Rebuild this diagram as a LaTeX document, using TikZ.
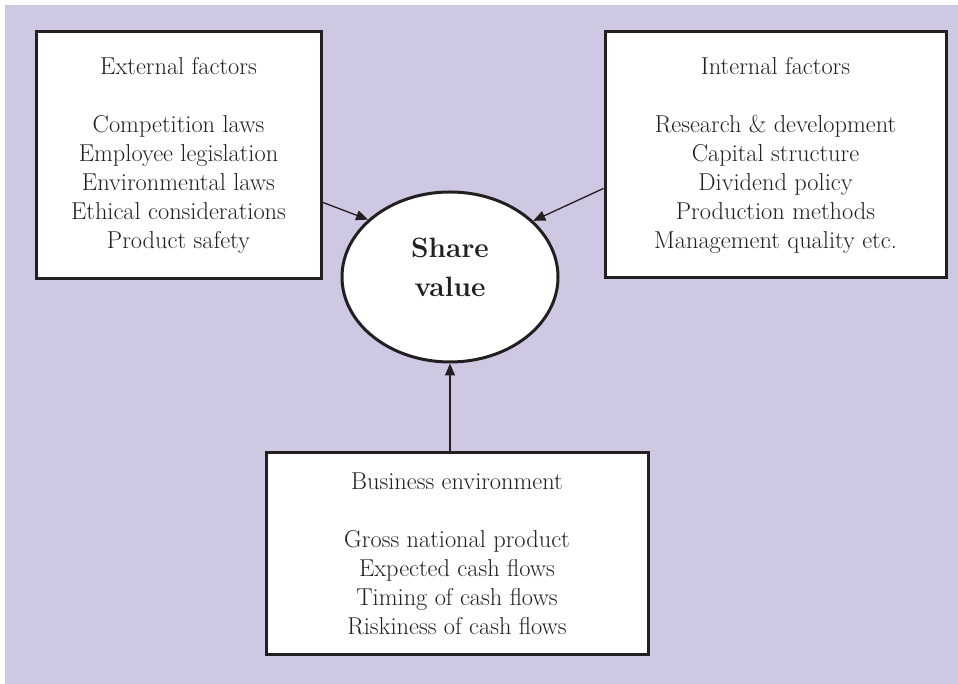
\documentclass[tikz,border=0pt]{standalone}
\usepackage{fontspec}
\usepackage{xcolor}
\usepackage{tikz}
\usetikzlibrary{shapes.geometric,arrows.meta,positioning}

\definecolor{bgpurple}{RGB}{206,200,226}
\definecolor{inkgray}{RGB}{35,31,32}

\tikzset{
  factorbox/.style={draw=inkgray, line width=3pt, fill=white, align=center,
    inner sep=0pt, text=inkgray},
  valueoval/.style={ellipse, draw=inkgray, line width=3pt, fill=white, align=center,
    inner sep=0pt, minimum width=216pt, minimum height=170pt, text=inkgray,
    text depth=20pt, font=\fontsize{28}{39}\selectfont\bfseries},
  pointer/.style={-{Triangle[length=12pt,width=10pt]}, draw=inkgray, line width=1.3pt}
}

\begin{document}
\begin{tikzpicture}[x=1pt, y=1pt, every node/.style={font=\fontsize{24.4}{29}\selectfont}]
  \useasboundingbox (0,0) rectangle (958,684);
  \fill[bgpurple] (5,0) rectangle (958,679);

  % centre of the diagram
  \node[valueoval] (share) at (450,407) {Share\\value};

  % external factors (left)
  \node[factorbox, minimum width=285pt, minimum height=247pt] (ext) at (178.5,528.5)
    {External factors\\[29pt]Competition laws\\Employee legislation\\Environmental laws\\Ethical considerations\\Product safety};

  % internal factors (right)
  \node[factorbox, minimum width=341pt, minimum height=246pt] (int) at (775.5,529)
    {Internal factors\\[29pt]Research \& development\\Capital structure\\Dividend policy\\Production methods\\Management quality etc.};

  % business environment (bottom)
  \node[factorbox, minimum width=382pt, minimum height=202pt] (biz) at (457,130)
    {Business environment\\[29pt]Gross national product\\Expected cash flows\\Timing of cash flows\\Riskiness of cash flows};

  % arrows into the oval
  \draw[pointer] (ext.-18) -- (share.145);
  \draw[pointer] (int.-169) -- (share.34);
  \draw[pointer] (share.south |- biz.north) -- (share.south);
\end{tikzpicture}
\end{document}
